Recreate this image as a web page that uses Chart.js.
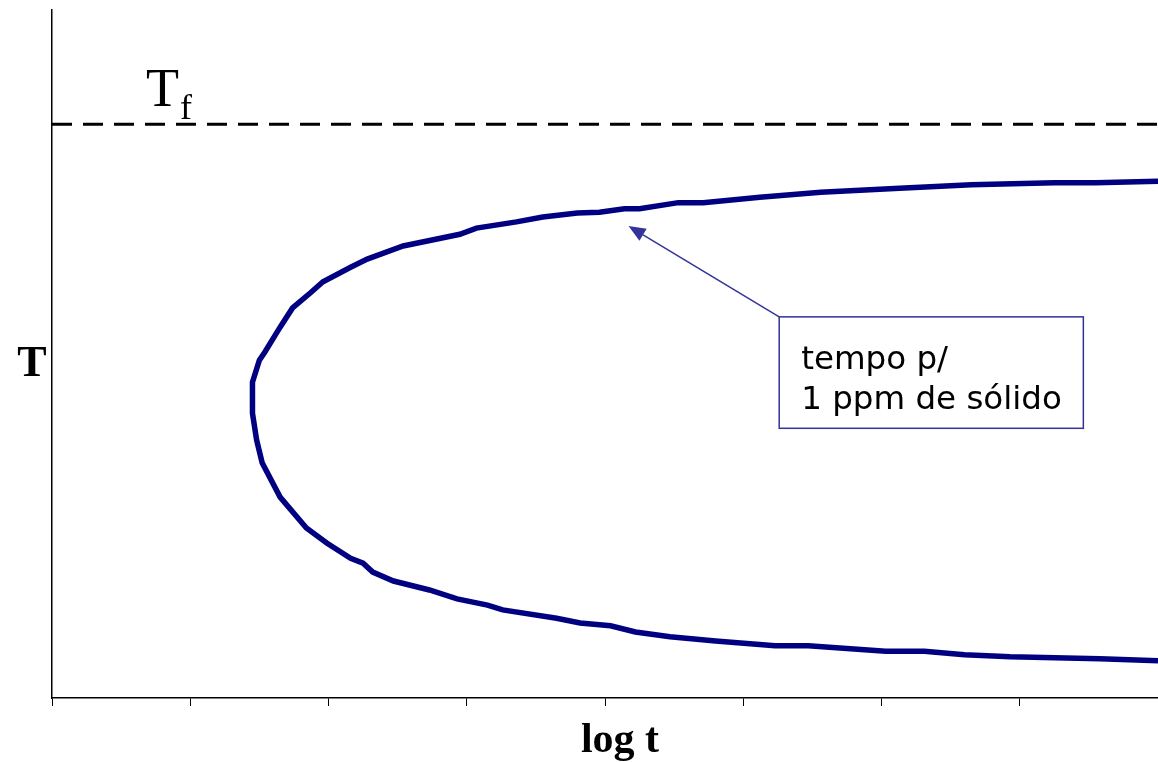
<!DOCTYPE html>
<html>
<head>
<meta charset="utf-8">
<script src="https://cdn.jsdelivr.net/npm/chart.js@4.4.1/dist/chart.umd.min.js"></script>
<style>
  html, body { margin: 0; padding: 0; background: #fff; }
  #wrap { width: 1158px; height: 762px; }
</style>
</head>
<body>
<div id="wrap"><canvas id="tttChart"></canvas></div>
<script>
// TTT curve (tempo p/ 1 ppm de sólido).
// x = log t (axis runs 0..8), y = T (axis runs 0..100)
const logT = [
    8.00, 7.55, 7.25, 6.65, 6.13, 5.56, 5.12, 4.71, 4.53, 4.25, 4.14, 3.96, 3.80, 3.55,
    3.36, 3.07, 2.95, 2.54, 2.28, 2.16, 1.96, 1.87, 1.74, 1.65, 1.54, 1.50, 1.45, 1.45,
    1.48, 1.52, 1.65, 1.84, 1.99, 2.16, 2.25, 2.32, 2.47, 2.73, 2.93, 3.15, 3.26, 3.65,
    3.82, 4.04, 4.22, 4.47, 4.80, 5.23, 5.47, 6.03, 6.31, 6.60, 6.93, 7.58, 8.00
];
const temperature = [
    75.1, 74.9, 74.9, 74.6, 74.1, 73.5, 72.8, 72.0, 72.0, 71.1, 71.1, 70.6, 70.5, 69.9,
    69.2, 68.3, 67.4, 65.7, 63.8, 62.6, 60.5, 58.9, 56.7, 53.9, 50.3, 49.1, 45.9, 41.4,
    37.5, 34.2, 29.2, 24.7, 22.5, 20.3, 19.6, 18.3, 17.0, 15.7, 14.4, 13.5, 12.8, 11.6,
    10.9, 10.5, 9.6, 8.9, 8.3, 7.6, 7.6, 6.8, 6.8, 6.3, 6.0, 5.7, 5.4
];
// melting temperature T_f (dashed line)
const meltT = 83.4;
const xTickValues = [0, 1, 2, 3, 4, 5, 6, 7, 8];

(function () {
    const curve = logT.map((x, i) => ({ x: x, y: temperature[i] }));
    const meltLine = [{ x: 0, y: meltT }, { x: 8, y: meltT }];

    // where the callout sits, in data units
    const callout = {
        tip: { x: 4.17, y: 68.6 },
        box: { x1: 5.26, y1: 55.4, x2: 7.46, y2: 39.2 },
        lines: ['tempo p/', '1 ppm de sólido']
    };

    // draws the axis labels, T_f and the callout box with arrow
    const labelsPlugin = {
        id: 'labels',
        afterDraw(chart) {
            const ctx = chart.ctx;
            const xs = chart.scales.x;
            const ys = chart.scales.y;
            ctx.save();

            // T_f
            const yMelt = ys.getPixelForValue(meltT);
            ctx.fillStyle = '#000';
            ctx.textBaseline = 'alphabetic';
            ctx.textAlign = 'left';
            ctx.font = '54px "Liberation Serif", serif';
            ctx.fillText('T', 146, yMelt - 18);
            ctx.font = '36px "Liberation Serif", serif';
            ctx.fillText('f', 180, yMelt - 5);

            // axis titles
            ctx.font = 'bold 44px "Liberation Serif", serif';
            ctx.textAlign = 'center';
            ctx.fillText('T', 32, 376);
            ctx.font = 'bold 42px "Liberation Serif", serif';
            ctx.fillText('log t', 620, 752);

            // callout box
            const bx1 = xs.getPixelForValue(callout.box.x1);
            const by1 = ys.getPixelForValue(callout.box.y1);
            const bx2 = xs.getPixelForValue(callout.box.x2);
            const by2 = ys.getPixelForValue(callout.box.y2);
            ctx.fillStyle = '#fff';
            ctx.fillRect(bx1, by1, bx2 - bx1, by2 - by1);
            ctx.strokeStyle = '#333399';
            ctx.lineWidth = 1.5;
            ctx.strokeRect(bx1, by1, bx2 - bx1, by2 - by1);

            ctx.fillStyle = '#000';
            ctx.textAlign = 'left';
            ctx.font = '32.5px "DejaVu Sans", sans-serif';
            ctx.fillText(callout.lines[0], bx1 + 22, by1 + 52);
            ctx.fillText(callout.lines[1], bx1 + 22, by1 + 92);

            // arrow from box corner to the curve
            const tx = xs.getPixelForValue(callout.tip.x);
            const ty = ys.getPixelForValue(callout.tip.y);
            const ang = Math.atan2(ty - by1, tx - bx1);
            const headLen = 17, headW = 7;
            const hx = tx - headLen * Math.cos(ang);
            const hy = ty - headLen * Math.sin(ang);
            ctx.beginPath();
            ctx.moveTo(bx1, by1);
            ctx.lineTo(hx, hy);
            ctx.stroke();
            ctx.fillStyle = '#333399';
            ctx.beginPath();
            ctx.moveTo(tx, ty);
            ctx.lineTo(hx + headW * Math.sin(ang), hy - headW * Math.cos(ang));
            ctx.lineTo(hx - headW * Math.sin(ang), hy + headW * Math.cos(ang));
            ctx.closePath();
            ctx.fill();

            ctx.restore();
        }
    };

    new Chart(document.getElementById('tttChart'), {
        type: 'scatter',
        data: {
            datasets: [
                {
                    label: 'T_f',
                    data: meltLine,
                    showLine: true,
                    borderColor: '#000',
                    borderWidth: 3,
                    borderDash: [20, 11],
                    pointRadius: 0
                },
                {
                    label: '1 ppm',
                    data: curve,
                    showLine: true,
                    borderColor: '#000080',
                    borderWidth: 5.5,
                    tension: 0,
                    pointRadius: 0
                }
            ]
        },
        options: {
            responsive: true,
            maintainAspectRatio: false,
            animation: false,
            layout: { padding: { left: 52, top: 10, right: 0, bottom: 56 } },
            plugins: {
                legend: { display: false },
                tooltip: { enabled: false }
            },
            scales: {
                x: {
                    type: 'linear',
                    min: 0,
                    max: 8,
                    afterBuildTicks: (axis) => {
                        axis.ticks = xTickValues.map((v) => ({ value: v }));
                    },
                    ticks: { display: false },
                    grid: { drawOnChartArea: false, drawTicks: true, tickLength: 8, color: '#000', lineWidth: 1 },
                    border: { color: '#000', width: 1.5 }
                },
                y: {
                    type: 'linear',
                    min: 0,
                    max: 100,
                    ticks: { display: false },
                    grid: { display: false, drawTicks: false },
                    border: { color: '#000', width: 1.5 }
                }
            }
        },
        plugins: [labelsPlugin]
    });
})();
</script>
</body>
</html>
